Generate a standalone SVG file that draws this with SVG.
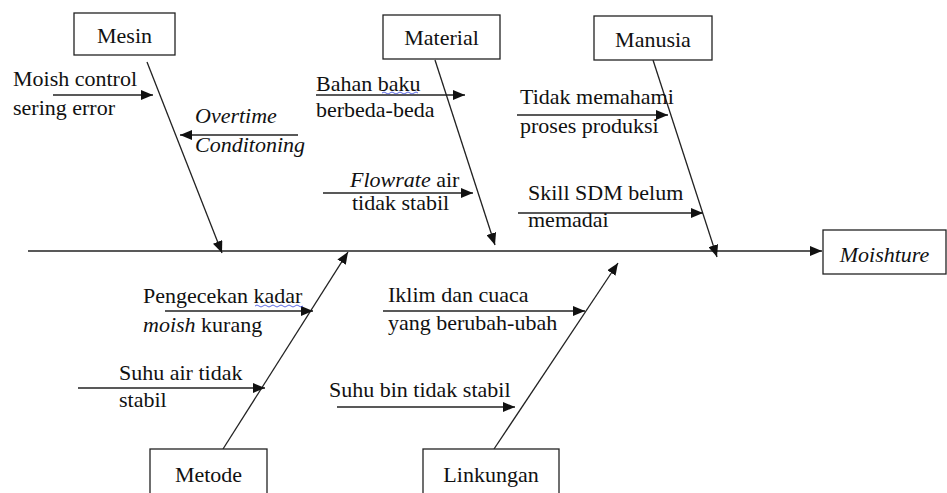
<svg xmlns="http://www.w3.org/2000/svg" width="947" height="493" viewBox="0 0 947 493">
<style>
text{font-family:"Liberation Serif","Times New Roman",serif;font-size:22px;fill:#111}
.i{font-style:italic}
.box{fill:#fff;stroke:#222;stroke-width:1.3}
.ln{stroke:#222;stroke-width:1.3;fill:none}
.c{text-anchor:middle}
.sp{stroke:#3344dd;stroke-width:0.8;fill:none}
</style>
<defs>
<marker id="ah" viewBox="0 0 12 10" refX="12" refY="5" markerWidth="12" markerHeight="10" orient="auto" markerUnits="userSpaceOnUse"><path d="M0,0 L12,5 L0,10 z" fill="#111"/></marker>
</defs>
<rect width="947" height="493" fill="#fff"/>
<g id="connectors">
<line class="ln" x1="28" y1="251" x2="822" y2="251" marker-end="url(#ah)"/>
<line class="ln" x1="147" y1="62" x2="222" y2="253" marker-end="url(#ah)"/>
<line class="ln" x1="435" y1="60" x2="495" y2="245" marker-end="url(#ah)"/>
<line class="ln" x1="653" y1="60" x2="717" y2="257" marker-end="url(#ah)"/>
<line class="ln" x1="223" y1="449" x2="348" y2="252" marker-end="url(#ah)"/>
<line class="ln" x1="494" y1="449" x2="618" y2="263" marker-end="url(#ah)"/>
<line class="ln" x1="53" y1="95" x2="153" y2="95" marker-end="url(#ah)"/>
<line class="ln" x1="298" y1="135" x2="180" y2="135" marker-end="url(#ah)"/>
<line class="ln" x1="316" y1="95" x2="465" y2="95" marker-end="url(#ah)"/>
<line class="ln" x1="323" y1="193" x2="473" y2="193" marker-end="url(#ah)"/>
<line class="ln" x1="517" y1="115" x2="668" y2="115" marker-end="url(#ah)"/>
<line class="ln" x1="518" y1="213" x2="703" y2="213" marker-end="url(#ah)"/>
<line class="ln" x1="165" y1="311" x2="313" y2="311" marker-end="url(#ah)"/>
<line class="ln" x1="78" y1="388" x2="265" y2="388" marker-end="url(#ah)"/>
<line class="ln" x1="383" y1="311" x2="585" y2="311" marker-end="url(#ah)"/>
<line class="ln" x1="337" y1="407" x2="515" y2="407" marker-end="url(#ah)"/>
</g>
<g id="mesin"><rect class="box" x="74" y="13" width="101" height="42"/><text class="c" x="124.5" y="43">Mesin</text></g>
<g id="material"><rect class="box" x="383" y="15" width="117" height="44"/><text class="c" x="441.5" y="45">Material</text></g>
<g id="manusia"><rect class="box" x="594" y="16" width="118" height="44"/><text class="c" x="653" y="47">Manusia</text></g>
<g id="metode"><rect class="box" x="150" y="449" width="117" height="50"/><text class="c" x="208.5" y="482">Metode</text></g>
<g id="linkungan"><rect class="box" x="423" y="449" width="136" height="50"/><text class="c" x="491" y="482">Linkungan</text></g>
<g id="moishture"><rect class="box" x="823" y="230" width="123" height="44"/><text class="i c" x="884.5" y="262">Moishture</text></g>
<g id="causes">
<text x="13" y="86">Moish control</text><text x="13" y="115">sering error</text>
<text class="i" x="195" y="123">Overtime</text><text class="i" x="195" y="152">Conditoning</text>
<text x="316" y="91">Bahan baku</text><text x="316" y="117">berbeda-beda</text>
<path class="sp" d="M382,93 q2,-2 4,0 t4,0 t4,0 t4,0 t4,0 t4,0 t4,0 t4,0 t4,0"/>
<text x="350" y="187"><tspan class="i">Flowrate</tspan> air</text><text x="352" y="210">tidak stabil</text>
<text x="520" y="104">Tidak memahami</text><text x="520" y="133">proses produksi</text>
<text x="528" y="200">Skill SDM belum</text><text x="528" y="227">memadai</text>
<text x="143" y="303">Pengecekan kadar</text><text x="143" y="332"><tspan class="i">moish</tspan> kurang</text>
<path class="sp" d="M255,306 q2,-2 4,0 t4,0 t4,0 t4,0 t4,0 t4,0 t4,0 t4,0 t4,0 t4,0 t4,0 t4,0"/>
<text x="119" y="380">Suhu air tidak</text><text x="119" y="407">stabil</text>
<text x="388" y="302">Iklim dan cuaca</text><text x="388" y="330">yang berubah-ubah</text>
<text x="329" y="397">Suhu bin tidak stabil</text>
</g>
</svg>
